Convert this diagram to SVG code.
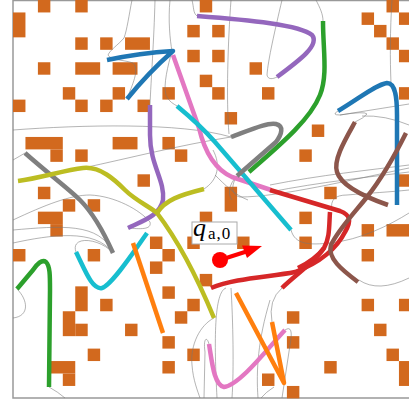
<svg xmlns="http://www.w3.org/2000/svg" width="409" height="405" viewBox="0 0 409 405">
<style>
.obs rect{fill:#d2691e}
.thin path{fill:none;stroke:#777;stroke-width:1;stroke-opacity:0.55}
.traj path{fill:none;stroke-width:4.5;stroke-linecap:butt;stroke-linejoin:round}
.lbl{font-family:"Liberation Serif","DejaVu Serif",serif;fill:#000}
</style>
<rect width="409" height="405" fill="#fff"/>
<rect x="13" y="0.5" width="420" height="397.5" fill="none" stroke="#999" stroke-width="1.5"/>
<g id="obstacles" class="obs" transform="translate(13,0) scale(12.45)">
<rect x="2" y="0" width="1" height="1"/><rect x="5" y="0" width="1" height="1"/><rect x="15" y="0" width="1" height="1"/><rect x="30" y="0" width="1" height="1"/>
<rect x="0" y="1" width="1" height="2"/><rect x="28" y="1" width="1" height="1"/><rect x="31" y="1" width="1" height="1"/>
<rect x="14" y="2" width="1" height="1"/><rect x="16" y="2" width="1" height="1"/><rect x="29" y="2" width="1" height="1"/>
<rect x="5" y="3" width="1" height="1"/><rect x="7" y="3" width="1" height="1"/><rect x="9" y="3" width="2" height="1"/><rect x="30" y="3" width="1" height="1"/>
<rect x="14" y="4" width="1" height="1"/><rect x="16" y="4" width="1" height="1"/><rect x="31" y="4" width="1" height="1"/>
<rect x="2" y="5" width="1" height="1"/><rect x="5" y="5" width="2" height="1"/><rect x="8" y="5" width="2" height="1"/><rect x="19" y="5" width="1" height="1"/>
<rect x="15" y="6" width="1" height="1"/>
<rect x="4" y="7" width="1" height="1"/><rect x="8" y="7" width="1" height="1"/><rect x="12" y="7" width="1" height="1"/><rect x="16" y="7" width="1" height="1"/><rect x="20" y="7" width="1" height="1"/><rect x="31" y="7" width="1" height="1"/>
<rect x="0" y="8" width="1" height="1"/><rect x="5" y="8" width="1" height="1"/><rect x="7" y="8" width="1" height="1"/><rect x="10" y="8" width="1" height="1"/>
<rect x="17" y="9" width="1" height="1"/>
<rect x="24" y="10" width="1" height="1"/>
<rect x="1" y="11" width="3" height="1"/><rect x="3" y="12" width="1" height="1"/><rect x="8" y="11" width="2" height="1"/><rect x="12" y="11" width="1" height="1"/>
<rect x="5" y="12" width="1" height="1"/><rect x="13" y="12" width="1" height="1"/><rect x="23" y="12" width="1" height="1"/>
<rect x="10" y="14" width="1" height="1"/><rect x="31" y="14" width="1" height="1"/>
<rect x="2" y="15" width="1" height="1"/><rect x="17" y="15" width="1" height="2"/><rect x="25" y="15" width="1" height="1"/>
<rect x="4" y="16" width="1" height="1"/><rect x="6" y="16" width="1" height="1"/>
<rect x="2" y="17" width="2" height="1"/><rect x="3" y="18" width="1" height="1"/><rect x="15" y="17" width="1" height="1"/><rect x="23" y="17" width="1" height="1"/>
<rect x="28" y="18" width="1" height="1"/><rect x="30" y="18" width="2" height="1"/>
<rect x="11" y="19" width="1" height="1"/><rect x="14" y="19" width="1" height="1"/><rect x="18" y="19" width="1" height="1"/><rect x="23" y="19" width="1" height="1"/>
<rect x="0" y="20" width="1" height="1"/><rect x="6" y="20" width="1" height="1"/><rect x="12" y="20" width="1" height="1"/><rect x="28" y="20" width="1" height="1"/>
<rect x="11" y="21" width="1" height="1"/>
<rect x="15" y="22" width="1" height="1"/>
<rect x="5" y="23" width="1" height="2"/><rect x="12" y="23" width="1" height="1"/>
<rect x="7" y="24" width="1" height="1"/><rect x="14" y="24" width="1" height="1"/><rect x="28" y="24" width="1" height="1"/><rect x="31" y="24" width="1" height="1"/>
<rect x="4" y="25" width="1" height="2"/><rect x="5" y="26" width="1" height="1"/><rect x="13" y="25" width="1" height="1"/><rect x="22" y="25" width="1" height="1"/>
<rect x="9" y="26" width="1" height="1"/><rect x="29" y="26" width="1" height="1"/>
<rect x="12" y="27" width="1" height="1"/><rect x="22" y="27" width="1" height="1"/>
<rect x="6" y="28" width="1" height="1"/><rect x="14" y="28" width="1" height="1"/><rect x="30" y="28" width="1" height="1"/>
<rect x="3" y="29" width="2" height="1"/><rect x="4" y="30" width="1" height="1"/><rect x="12" y="29" width="1" height="1"/><rect x="25" y="29" width="1" height="1"/><rect x="31" y="29" width="1" height="2"/>
<rect x="20" y="30" width="1" height="1"/>
<rect x="22" y="31" width="1" height="1"/>
</g>
<g id="connectors" class="thin">
<path d="M132,0 C129,15 127,30 124,38 C118,45 110,50 108,55 C110,60 125,60 133,63 C140,70 132,85 127,99"/>
<path d="M155,0 C154,40 151,80 150,105"/>
<path d="M170,0 C168,20 170,40 172,51 C168,65 163,85 166,95 C169,102 174,104 177,106"/>
<path d="M192,0 C194,8 193,13 197,16"/>
<path d="M13,130 C80,125 180,122 231,137"/>
<path d="M231,0 C228,40 226,100 229,134"/>
<path d="M282,0 C275,30 268,60 267,75 C268,80 273,79 277,77"/>
<path d="M316,0 C320,8 323,14 323,21"/>
<path d="M392,0 C390,30 390,60 391,83"/>
<path d="M338,111 Q331,115 340,115 L409,104"/>
<path d="M340,115 Q365,111 367,114 Q364,118 355,122"/>
<path d="M362,116 Q385,115 409,125"/>
<path d="M13,160 Q20,156 25,153"/>
<path d="M83,168 C130,158 180,145 231,137"/>
<path d="M13,220 C45,205 70,195 90,195 C115,196 140,210 150,222 C152,230 140,229 128,228"/>
<path d="M13,230 C60,226 100,222 113,253"/>
<path d="M13,243 C50,235 95,228 113,253"/>
<path d="M113,253 C100,238 70,235 76,252"/>
<path d="M13,318 C30,316 28,300 17,289"/>
<path d="M49,387 Q58,392 65,398"/>
<path d="M214,318 C200,325 190,345 192,365 C193,380 198,392 200,398"/>
<path d="M209,344 C207,336 203,338 205,352 L204,398"/>
<path d="M226,288 C214,292 214,340 217,398"/>
<path d="M231,288 C233,320 234,370 232,398"/>
<path d="M282,288 Q268,300 272,322"/>
<path d="M285,330 Q294,324 290,345 L282,398"/>
<path d="M274,387 Q266,392 261,398"/>
<path d="M270,300 C258,340 256,370 258,398"/>
<path d="M359,280 Q378,293 409,278"/>
<path d="M270,185 C320,175 370,170 409,165"/>
<path d="M270,192 C320,182 370,177 409,172"/>
<path d="M237,176 C231,185 231,195 240,197 C280,197 350,180 409,168"/>
<path d="M332,210 C330,200 335,195 347,195 C370,193 390,192 409,190"/>
<path d="M291,230 C295,245 310,245 330,243 C360,240 390,225 409,213"/>
<path d="M215,175 C225,185 235,195 248,200"/>
<path d="M213,150 C221,165 218,180 204,189"/>
<path d="M237,176 C228,185 228,195 232,200"/>
</g>
<g id="trajectories" class="traj">
<path id="blue1" stroke="#1f77b4" d="M107,60 Q140,53 173,51 Q148,73 127,99"/>
<path id="blue2" stroke="#1f77b4" d="M338,111 C360,98 375,85 387,83 C396,83 397,100 397,115 L397,205"/>
<path id="purple1" stroke="#9467bd" d="M197,16 C250,20 300,25 312,35 C320,45 300,60 277,77"/>
<path id="purple2" stroke="#9467bd" d="M150,105 L150,135 C150,165 165,180 163,200 C160,215 145,220 128,228"/>
<path id="green1" stroke="#2ca02c" d="M323,21 C323,50 328,75 320,95 C310,120 280,145 249,172"/>
<path id="green2" stroke="#2ca02c" d="M17,289 L33,270 C37,264 42,259 46,262 C50,266 50,275 50,290 L49,387"/>
<path id="pink1" stroke="#e377c2" d="M173,55 L199,128 C203,145 212,168 232,177 L271,190"/>
<path id="pink2" stroke="#e377c2" d="M209,344 C212,362 214,385 224,387 C240,385 268,348 285,330"/>
<path id="cyan1" stroke="#17becf" d="M177,106 Q200,125 215,142 L291,230"/>
<path id="cyan2" stroke="#17becf" d="M76,252 C85,270 92,290 102,288 C112,285 135,250 147,233"/>
<path id="gray1" stroke="#7f7f7f" d="M25,153 C50,175 70,190 80,200 C95,215 105,235 113,253"/>
<path id="gray2" stroke="#7f7f7f" d="M231,137 C250,130 268,122 276,124 C284,126 282,134 276,142 L237,176"/>
<path id="olive1" stroke="#bcbd22" d="M18,181 C40,178 65,170 83,168 C100,166 115,180 125,190 C135,200 150,207 157,213 C170,230 190,260 214,318"/>
<path id="olive2" stroke="#bcbd22" d="M157,213 C165,200 180,195 204,189"/>
<path id="orange1" stroke="#ff7f0e" d="M133,243 L163,333"/>
<path id="orange2" stroke="#ff7f0e" d="M236,293 L284,383 L272,322"/>
<path id="red1" stroke="#d62728" d="M211,288 C235,278 270,277 295,272 C320,263 337,248 345,232 C352,220 350,215 340,211 L270,190"/>
<path id="red2" stroke="#d62728" d="M330,212 C329,225 330,238 324,248 C315,262 295,275 282,288"/>
<path id="red3" stroke="#d62728" stroke-width="7" d="M298,268 C310,262 318,256 324,248"/>
<path id="brown1" stroke="#8c564b" d="M355,122 C345,140 333,160 337,172 C341,185 362,196 388,205"/>
<path id="brown2" stroke="#8c564b" d="M406,133 C395,155 382,178 367,197 C355,212 338,230 331,245 C327,258 342,270 358,282"/>
</g>
<g id="start">
<line x1="220" y1="260" x2="248" y2="251" stroke="#f00" stroke-width="4"/>
<polygon points="242,245.5 262,246 247,258" fill="#f00"/>
<circle cx="220" cy="260" r="8" fill="#f00"/>
</g>
<g id="label">
<rect x="192" y="222" width="45" height="22" fill="#fff" stroke="#aaa" stroke-width="1"/>
<text class="lbl" x="193" y="236" font-size="26" font-style="italic">q</text>
<text class="lbl" x="208" y="239" font-size="17" letter-spacing="1">a,0</text>
</g>
</svg>
